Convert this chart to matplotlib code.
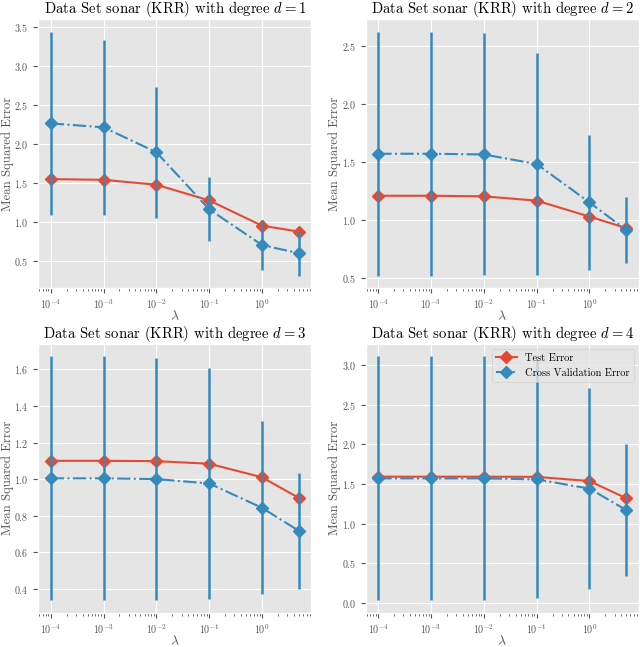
import matplotlib
matplotlib.use('Agg')
import matplotlib.pyplot as plt
import numpy as np

plt.style.use('ggplot')
plt.rcParams['font.family'] = 'serif'
plt.rcParams['font.serif'] = ['cmr10']
plt.rcParams['mathtext.fontset'] = 'cm'
plt.rcParams['axes.formatter.use_mathtext'] = True

lambdas = [1e-4, 1e-3, 1e-2, 1e-1, 1.0, 5.0]
degrees = [1, 2, 3, 4]

test_err = {
    1: [1.549, 1.540, 1.477, 1.276, 0.953, 0.877],
    2: [1.209, 1.209, 1.204, 1.167, 1.030, 0.931],
    3: [1.100, 1.100, 1.098, 1.084, 1.010, 0.897],
    4: [1.592, 1.592, 1.592, 1.590, 1.537, 1.320],
}
cv_err = {
    1: [2.262, 2.212, 1.893, 1.163, 0.705, 0.600],
    2: [1.570, 1.570, 1.564, 1.482, 1.152, 0.914],
    3: [1.004, 1.004, 1.000, 0.976, 0.843, 0.717],
    4: [1.571, 1.571, 1.571, 1.558, 1.442, 1.171],
}
cv_std = {
    1: [1.175, 1.120, 0.840, 0.410, 0.320, 0.290],
    2: [1.050, 1.050, 1.040, 0.950, 0.580, 0.280],
    3: [0.668, 0.668, 0.662, 0.630, 0.474, 0.316],
    4: [1.540, 1.540, 1.540, 1.500, 1.270, 0.830],
}

fig, axes = plt.subplots(2, 2, figsize=(6.4, 6.47), dpi=100)
fig.subplots_adjust(left=0.06, right=0.998, top=0.97, bottom=0.053,
                    wspace=0.2, hspace=0.208)

for ax, d in zip(axes.flat, degrees):
    ax.plot(lambdas, test_err[d], '-D', color='#E24A33', markersize=6,
            linewidth=1.5, label='Test Error')
    ax.errorbar(lambdas, cv_err[d], yerr=cv_std[d], fmt='-.D',
                color='#348ABD', markersize=6, linewidth=1.5,
                elinewidth=1.8, label='Cross Validation Error')
    ax.set_xscale('log')
    ax.set_title('Data Set sonar (KRR) with degree $d = %d$' % d,
                 fontsize=10.6, color='black', pad=1.5)
    ax.set_xlabel(r'$\lambda$', fontsize=10, labelpad=-1)
    ax.set_ylabel('Mean Squared Error', fontsize=9.2, labelpad=0.5)
    ax.tick_params(labelsize=7.2)
    if d == 4:
        ax.legend(loc='upper right', fontsize=7.5)

fig.savefig('out.png', dpi=100)
